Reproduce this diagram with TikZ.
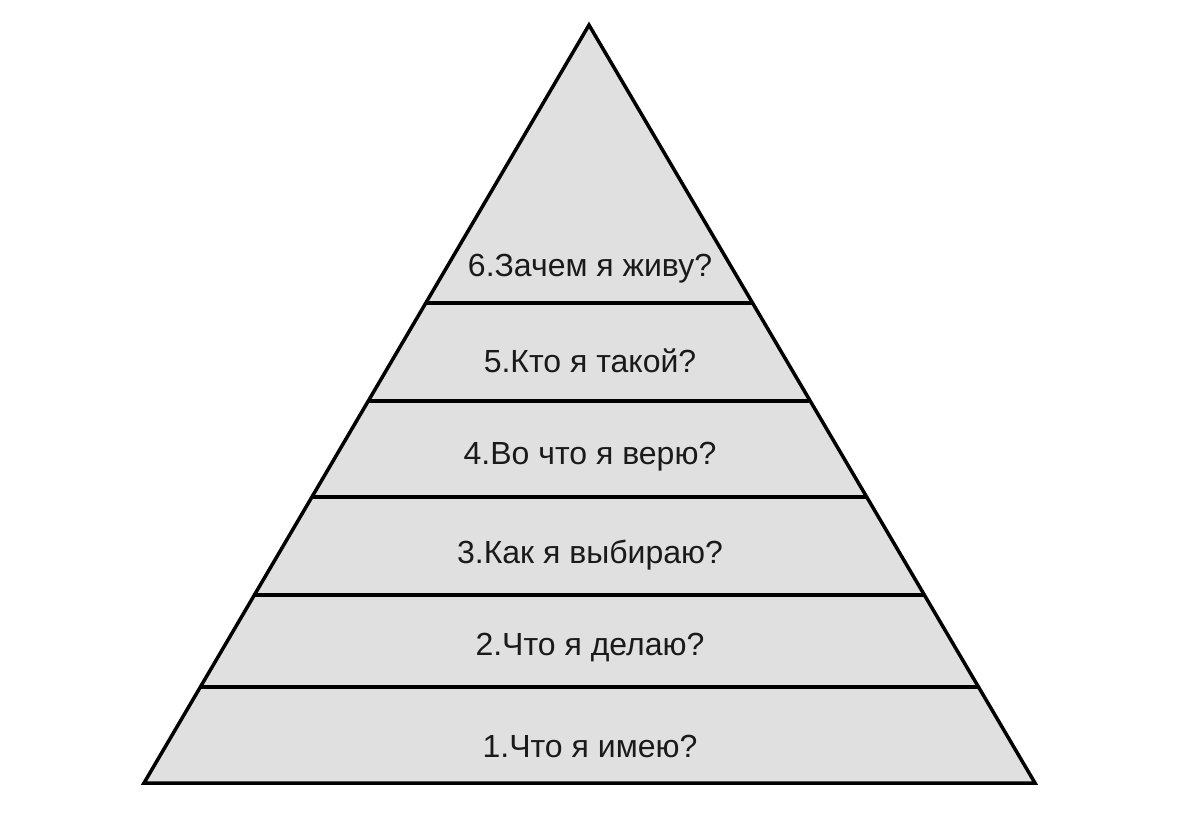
\documentclass[tikz,border=0pt]{standalone}
\usepackage{fontspec}
\setmainfont{Liberation Sans}
\usetikzlibrary{calc}
\definecolor{bandfill}{HTML}{E0E0E0}
\definecolor{txt}{HTML}{1A1A1A}
\tikzset{
  pyr/.style={draw=black, line width=3.5pt, fill=bandfill, line join=miter},
  divider/.style={draw=black, line width=3.5pt},
  lbl/.style={text=txt, font=\fontsize{32}{38}\selectfont, inner sep=0pt, anchor=center}
}
\begin{document}
\begin{tikzpicture}[x=1pt,y=-1pt]
\useasboundingbox (0,0) rectangle (1179,815);
\coordinate (apex) at (589,25);
\coordinate (bl) at (144,783);
\coordinate (br) at (1035,783);
\path[pyr] (apex) -- (bl) -- (br) -- cycle;
\foreach \t in {0.3668,0.4960,0.6227,0.7520,0.8734}{
  \draw[divider] ($(apex)!\t!(bl)$) -- ($(apex)!\t!(br)$);
}
\node[lbl] (l6) at (590,269) {6.Зачем я живу?};
\node[lbl] (l5) at (590,361) {5.Кто я такой?};
\node[lbl] (l4) at (590,457) {4.Во что я верю?};
\node[lbl] (l3) at (590,555) {3.Как я выбираю?};
\node[lbl] (l2) at (590,648) {2.Что я делаю?};
\node[lbl] (l1) at (590,746) {1.Что я имею?};
\end{tikzpicture}
\end{document}
